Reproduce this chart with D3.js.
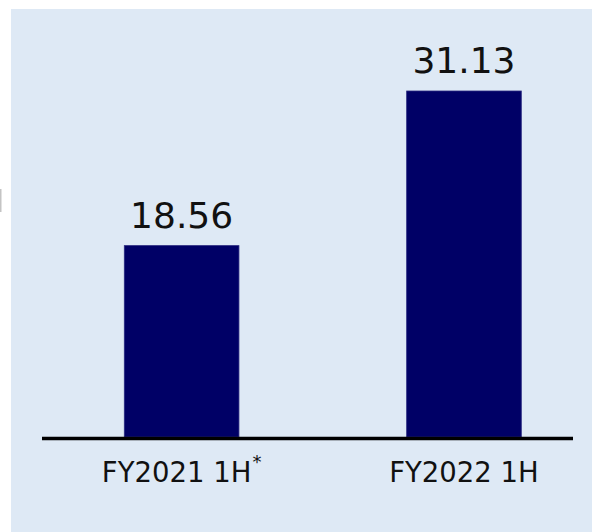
<!DOCTYPE html>
<html>
<head>
<meta charset="utf-8">
<script src="https://cdn.jsdelivr.net/npm/d3@7"></script>
<style>
  html, body { margin: 0; padding: 0; background: #ffffff; }
  svg { display: block; }
</style>
</head>
<body>
<svg id="chart" width="592" height="532"></svg>
<script>
const categories = ["FY2021 1H", "FY2022 1H"];
const superscripts = ["*", ""];
const values = [18.56, 31.13];
const valueLabels = ["18.56", "31.13"];
const yDomain = [3.0, 31.13];

const W = 592, H = 532;
const svg = d3.select("#chart");
const font = "DejaVu Sans, Verdana, sans-serif";

// background panel
svg.append("rect").attr("x", 11).attr("y", 9).attr("width", W - 11).attr("height", H - 9)
  .attr("fill", "#dee9f5");
// small grey mark at left edge
svg.append("rect").attr("x", 0).attr("y", 189).attr("width", 1.5).attr("height", 23)
  .attr("fill", "#c4c4c4");

const x = d3.scaleBand().domain(categories).range([124.3, 521.3]).paddingInner(0.594).paddingOuter(0);
const y = d3.scaleLinear().domain(yDomain).range([437, 91]);

// bars
svg.selectAll("rect.bar").data(values).enter().append("rect")
  .attr("class", "bar")
  .attr("x", (d, i) => x(categories[i]))
  .attr("width", x.bandwidth())
  .attr("y", d => y(d))
  .attr("height", d => y(yDomain[0]) - y(d))
  .attr("fill", "#000066")
  .attr("stroke", "#2a2a80")
  .attr("stroke-width", 0.8);

// value labels
svg.selectAll("text.val").data(values).enter().append("text")
  .attr("class", "val")
  .attr("x", (d, i) => x(categories[i]) + x.bandwidth() / 2)
  .attr("y", d => y(d) - 18)
  .attr("text-anchor", "middle")
  .attr("font-family", font)
  .attr("font-size", 36)
  .attr("fill", "#111111")
  .text((d, i) => valueLabels[i]);

// axis line
const xAxis = d3.axisBottom(x).tickSize(0).tickFormat("");
const gAxis = svg.append("g").attr("transform", "translate(0,438.5)").call(xAxis);
gAxis.select(".domain").attr("stroke", "#000").attr("stroke-width", 3.5)
  .attr("d", "M42,0H573");

// category labels
categories.forEach((c, i) => {
  const t = svg.append("text")
    .attr("x", x(c) + x.bandwidth() / 2)
    .attr("y", 481.5)
    .attr("text-anchor", "middle")
    .attr("font-family", font)
    .attr("font-size", 27.5)
    .attr("fill", "#111111");
  t.append("tspan").text(c);
  if (superscripts[i]) {
    t.append("tspan").attr("font-size", 18).attr("dy", -14).attr("dx", 1).text(superscripts[i]);
  }
});
</script>
</body>
</html>
